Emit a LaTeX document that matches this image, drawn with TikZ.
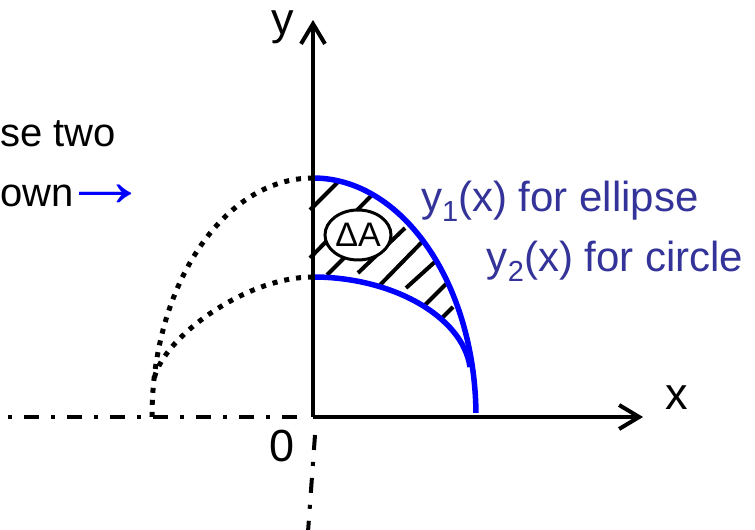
\documentclass[tikz,border=0pt]{standalone}
\usepackage{fontspec}
\setmainfont{Liberation Sans}
\usetikzlibrary{arrows.meta,shapes.geometric}
\definecolor{txtblue}{RGB}{51,51,153}
\newcommand\mysub[1]{\raisebox{-0.22em}{\fontsize{29}{31}\selectfont #1}}
\begin{document}
\begin{tikzpicture}[x=1pt,y=1pt,
  axis/.style={line width=4pt,-{Straight Barb[length=20pt,width=24pt,line width=4pt]}},
  dashdot/.style={line width=4pt,dash pattern=on 15pt off 12pt on 4pt off 12pt},
  dotcurve/.style={line width=5pt,dash pattern=on 5pt off 7pt},
  bluecurve/.style={blue,line width=5.5pt},
  hatch/.style={line width=4pt},
  lbl/.style={inner sep=0pt,anchor=base,text height=24pt,font=\fontsize{45}{50}\selectfont},
  desc/.style={inner sep=0pt,anchor=base west,text=txtblue,font=\fontsize{42}{46}\selectfont},
  side/.style={inner sep=0pt,anchor=base west,font=\fontsize{40}{46}\selectfont},
]
\useasboundingbox (-313,-113) rectangle (442,417);
% key points
\coordinate (O) at (0,0);
\coordinate (ytip) at (0,397);
\coordinate (xtip) at (330,0);
\coordinate (xl0) at (-16,0);
\coordinate (xl1) at (-313,0);
\coordinate (yd0) at (2,-18);
\coordinate (yd1) at (-5,-115);
\coordinate (Etop) at (0,239);
\coordinate (Ctop) at (0,140);
\coordinate (Cmerge) at (157,50);
\coordinate (Lmerge) at (-159.3,35);

% hatching
\draw[hatch] (-3,207) coordinate (h1a) -- (27,237) coordinate (h1b);
\draw[hatch] (-3,159) coordinate (h2a) -- (58,221) coordinate (h2b);
\draw[hatch] (14,142) coordinate (h3a) -- (62,190) coordinate (h3b);
\draw[hatch] (45,144) coordinate (h4a) -- (92,189) coordinate (h4b);
\draw[hatch] (67,132) coordinate (h5a) -- (109,175) coordinate (h5b);
\draw[hatch] (93,129) coordinate (h6a) -- (124,157) coordinate (h6b);
\draw[hatch] (110,110) coordinate (h7a) -- (133,133) coordinate (h7b);
\draw[hatch] (127,97) coordinate (h8a) -- (140,110) coordinate (h8b);

% dotted left curves
\draw[dotcurve] (Etop) arc[start angle=90,end angle=180,x radius=161,y radius=239];
\draw[dotcurve] (Ctop) .. controls (-70,140) and (-155.3,75) .. (Lmerge);

% blue curves
\draw[bluecurve] (Etop) arc[start angle=90,end angle=1,x radius=163,y radius=239];
\draw[bluecurve] (Ctop) .. controls (80,140) and (149.75,100) .. (Cmerge);

% dash-dot axes
\draw[dashdot] (xl0) -- (xl1);
\draw[dashdot] (yd0) -- (yd1);

% axes
\draw[axis] (O) -- (ytip);
\draw[axis] (O) -- (xtip);

% Delta A
\node[draw,ellipse,line width=3pt,fill=white,minimum width=66pt,minimum height=50pt,inner sep=0pt,
      font=\fontsize{34}{36}\selectfont] (dA) at (45,182) {ΔA};

% labels
\node[lbl] (ylab) at (-30.5,382) {y};
\node[lbl] (xlab) at (363.5,7) {x};
\node[lbl] (zero) at (-30.5,-45) {0};
\node[desc] (y1) at (108,205) {y\mysub{1}(x) for ellipse};
\node[desc] (y2) at (173.7,145) {y\mysub{2}(x) for circle};
\node[side] (t1) at (-313,270) {se two};
\node[side] (t2) at (-313,210) {own{\color{blue}\hspace{-12pt}\scalebox{2.2}[1.9]{→}}};
\end{tikzpicture}
\end{document}
